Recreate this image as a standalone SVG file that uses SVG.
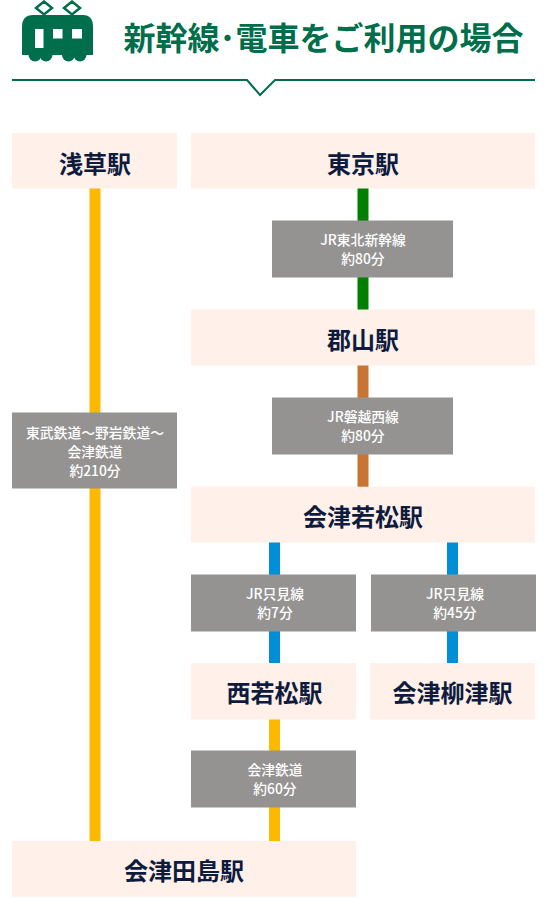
<svg xmlns="http://www.w3.org/2000/svg" width="548" height="898" viewBox="0 0 548 898">
<style>
text{font-family:"Noto Sans CJK JP","Noto Sans",sans-serif;text-anchor:middle}
.st rect{fill:#fff0e9}
.st text{font-size:24px;font-weight:700;fill:#0d1b3e}
.lb rect{fill:#949392}
.lb text{font-size:13.8px;font-weight:500;fill:#fff}
.c{fill:none;stroke-width:11}
</style>
<g id="header">
<g id="train-icon" fill="#006e4b">
<path d="M33 15H83Q93 15 93 27V55H22V27Q22 15 33 15Z"/>
<circle cx="35" cy="55" r="6.5"/><circle cx="46" cy="55" r="6.5"/><circle cx="68.500" cy="55" r="6.500"/><circle cx="80" cy="55" r="6.500"/>
<path d="M44 1.500 52 8 44 14.500 36 8Z M72 1.500 80 8 72 14.500 64 8Z" fill="none" stroke="#006e4b" stroke-width="2.500"/>
<rect x="35" y="29" width="8.500" height="19" fill="#fff"/><rect x="53" y="29" width="9.500" height="9.500" fill="#fff"/><rect x="72" y="29" width="10" height="9.500" fill="#fff"/>
</g>
<text x="323.500" y="50" font-size="32" font-weight="700" fill="#006e4b">新幹線･電車をご利用の場合</text>
<path d="M12 80H247L260 95 275 80H535" fill="none" stroke="#006e4b" stroke-width="2"/>
</g>
<g id="connectors">
<path class="c" stroke="#fdb900" d="M95 188V841"/>
<path class="c" stroke="#008000" d="M363 188V310"/>
<path class="c" stroke="#c87533" d="M363 365V487"/>
<path class="c" stroke="#008fd7" d="M274.500 542V663M452.500 542V663"/>
<path class="c" stroke="#fdb900" d="M274.500 719V841"/>
</g>
<g id="st-asakusa" class="st"><rect x="12" y="133" width="165" height="55.500"/><text x="95" y="172.500">浅草駅</text></g>
<g id="st-tokyo" class="st"><rect x="191" y="133" width="344" height="55.500"/><text x="363" y="172.500">東京駅</text></g>
<g id="st-koriyama" class="st"><rect x="191" y="309.500" width="344" height="56"/><text x="363" y="348.500">郡山駅</text></g>
<g id="st-aizuwakamatsu" class="st"><rect x="191" y="486.700" width="344" height="55.800"/><text x="363" y="525.500">会津若松駅</text></g>
<g id="st-nishiwakamatsu" class="st"><rect x="191" y="663" width="165" height="56.500"/><text x="274.500" y="701.500">西若松駅</text></g>
<g id="st-aizuyanaizu" class="st"><rect x="370" y="663" width="165" height="56.500"/><text x="452.500" y="701.500">会津柳津駅</text></g>
<g id="st-aizutajima" class="st"><rect x="12" y="841" width="344" height="56"/><text x="184" y="879.500">会津田島駅</text></g>
<g id="lb-tobu" class="lb"><rect x="12" y="412.500" width="165" height="76"/><text x="95" y="438">東武鉄道～野岩鉄道～</text><text x="95" y="457">会津鉄道</text><text x="95" y="476">約210分</text></g>
<g id="lb-tohoku" class="lb"><rect x="272" y="220.500" width="181" height="57"/><text x="363" y="244.500">JR東北新幹線</text><text x="363" y="263.500">約80分</text></g>
<g id="lb-banetsu" class="lb"><rect x="272" y="397.500" width="181" height="57"/><text x="363" y="422">JR磐越西線</text><text x="363" y="441">約80分</text></g>
<g id="lb-tadami1" class="lb"><rect x="191" y="574.500" width="165" height="57"/><text x="275" y="599">JR只見線</text><text x="275" y="618">約7分</text></g>
<g id="lb-tadami2" class="lb"><rect x="371" y="574.500" width="165" height="57"/><text x="455" y="599">JR只見線</text><text x="455" y="618">約45分</text></g>
<g id="lb-aizu" class="lb"><rect x="191" y="750.500" width="165" height="57"/><text x="275" y="775">会津鉄道</text><text x="275" y="794">約60分</text></g>
</svg>
